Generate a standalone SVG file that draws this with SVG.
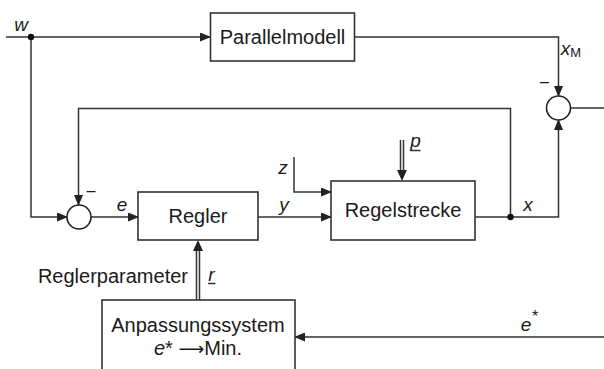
<svg xmlns="http://www.w3.org/2000/svg" width="604" height="369" viewBox="0 0 604 369">
  <defs>
    <marker id="arrow" markerWidth="11" markerHeight="9" refX="10" refY="4.5" orient="auto" markerUnits="userSpaceOnUse">
      <path d="M0,0 L11,4.5 L0,9 z" fill="#222"/>
    </marker>
  </defs>
  <style>
    .wire { fill: none; stroke: #333; stroke-width: 1.5; }
    .box { fill: #fff; stroke: #333; stroke-width: 1.6; }
    .sum { fill: #fff; stroke: #222; stroke-width: 1.6; }
    .lbl { font-family: "Liberation Sans", Arial, sans-serif; font-size: 20px; fill: #1a1a1a; }
    .var { font-family: "Liberation Sans", Arial, sans-serif; font-size: 19px; font-style: italic; fill: #1a1a1a; }
    .sign { font-family: "Liberation Sans", Arial, sans-serif; font-size: 16px; fill: #1a1a1a; }
    .dot { fill: #111; }
    .head { fill: #222; }
  </style>

  <rect width="604" height="369" fill="#fff"/>

  <g id="connectors">
    <!-- reference input w to the parallel model -->
    <path class="wire" d="M6,37 H210" marker-end="url(#arrow)"/>
    <!-- parallel model output x_M down into the comparison point -->
    <path class="wire" d="M354,37 H558.5 V96" marker-end="url(#arrow)"/>
    <!-- comparison output leaving to the right -->
    <path class="wire" d="M571,108 H604"/>
    <!-- w branch down into the controller sum -->
    <path class="wire" d="M31,37 V217 H67" marker-end="url(#arrow)"/>
    <!-- feedback of x -->
    <path class="wire" d="M510.5,217 V108.5 H78.5 V205" marker-end="url(#arrow)"/>
    <!-- e into controller -->
    <path class="wire" d="M91,217 H138" marker-end="url(#arrow)"/>
    <!-- y into plant -->
    <path class="wire" d="M258,217 H331" marker-end="url(#arrow)"/>
    <!-- disturbance z -->
    <path class="wire" d="M294,157 V192 H331" marker-end="url(#arrow)"/>
    <!-- plant output x -->
    <path class="wire" d="M475,217 H558.5 V120" marker-end="url(#arrow)"/>
    <!-- e* back into the adaptation system -->
    <path class="wire" d="M604,337 H295" marker-end="url(#arrow)"/>

    <!-- parameter vector p (double line) -->
    <path class="wire" d="M400.5,140 V171 M403.5,140 V171"/>
    <path class="head" d="M397,170 L407,170 L402,181 z"/>
    <!-- controller parameters r (double line) -->
    <path class="wire" d="M196.5,300 V250 M199.5,300 V250"/>
    <path class="head" d="M193,251 L203,251 L198,240 z"/>

    <!-- branch points -->
    <circle class="dot" cx="31" cy="37" r="3.2"/>
    <circle class="dot" cx="510.5" cy="217" r="3.2"/>
  </g>

  <g id="parallelmodell">
    <rect class="box" x="210.5" y="13" width="144" height="48"/>
    <text class="lbl" x="282.5" y="44" text-anchor="middle">Parallelmodell</text>
  </g>

  <g id="vergleich-modell">
    <circle class="sum" cx="558.5" cy="108" r="12"/>
    <text class="sign" x="544.5" y="87" text-anchor="middle">–</text>
  </g>

  <g id="vergleich-regler">
    <circle class="sum" cx="79" cy="217" r="12"/>
    <text class="sign" x="91" y="196" text-anchor="middle">–</text>
  </g>

  <g id="regler">
    <rect class="box" x="138" y="192" width="120" height="48"/>
    <text class="lbl" x="198" y="223" text-anchor="middle">Regler</text>
  </g>

  <g id="regelstrecke">
    <rect class="box" x="331" y="181" width="144" height="59"/>
    <text class="lbl" x="403" y="217" text-anchor="middle">Regelstrecke</text>
  </g>

  <g id="anpassungssystem">
    <rect class="box" x="102" y="300" width="193" height="90"/>
    <text class="lbl" x="198" y="332" text-anchor="middle">Anpassungssystem</text>
    <text class="lbl" x="198" y="355" text-anchor="middle"><tspan font-style="italic">e</tspan>* <tspan font-family="'DejaVu Sans', sans-serif" font-size="18">⟶</tspan>Min.</text>
  </g>

  <g id="labels">
    <text class="var" x="21" y="31" text-anchor="middle">w</text>
    <text class="var" x="571" y="55" text-anchor="middle">x<tspan font-style="normal" font-size="13" dy="2">M</tspan></text>
    <text class="var" x="122" y="211" text-anchor="middle">e</text>
    <text class="var" x="284" y="211" text-anchor="middle">y</text>
    <text class="var" x="283" y="174" text-anchor="middle">z</text>
    <text class="var" x="528" y="211" text-anchor="middle">x</text>
    <text class="var" x="415.5" y="147" text-anchor="middle" font-size="17">p</text>
    <path class="wire" d="M410.5,150.5 H420.5" stroke-width="1.3"/>
    <text class="lbl" x="188" y="283" text-anchor="end">Reglerparameter</text>
    <text class="var" x="211.5" y="281" text-anchor="middle">r</text>
    <path class="wire" d="M208,283.5 H215.5" stroke-width="1.3"/>
    <text class="var" x="526" y="331" text-anchor="middle">e</text>
    <text class="sign" x="535" y="322" text-anchor="middle" font-size="10">*</text>
  </g>
</svg>
